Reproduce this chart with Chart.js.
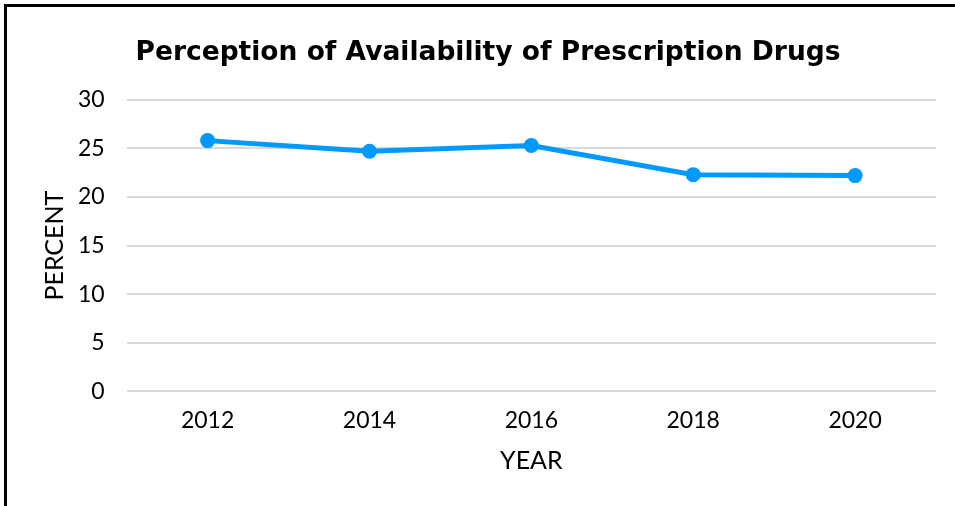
<!DOCTYPE html>
<html>
<head>
<meta charset="utf-8">
<script src="https://cdn.jsdelivr.net/npm/chart.js@4"></script>
<style>
  body { margin: 0; background: #fff; overflow: hidden; }
  #frame {
    position: absolute; left: 4px; top: 4px;
    border-left: 3px solid #000; border-top: 3px solid #000;
    width: 951px; height: 502px;
  }
</style>
</head>
<body>
<div id="frame"><canvas id="myChart" width="948" height="499"></canvas></div>
<script>
const years = ['2012', '2014', '2016', '2018', '2020'];
const percent = [25.8, 24.7, 25.3, 22.3, 22.2];
const yTicks = [0, 5, 10, 15, 20, 25, 30];

const clrLine = '#0099FF';
const clrGrid = '#D9D9D9';
const fontFace = 'Lato, "Noto Sans", sans-serif';
const titleFace = '"DejaVu Sans", sans-serif';

// note: chart.js reserves ticks.padding twice, the negative title paddings take that back
let chart = new Chart('myChart', {
	type: 'line',
	data: {
		labels: years,
		datasets: [{
			label: 'Percent',
			data: percent,
			borderColor: clrLine,
			backgroundColor: clrLine,
			borderWidth: 5,
			pointRadius: 7.5,
			pointBackgroundColor: clrLine,
			pointBorderWidth: 0,
			fill: false,
			tension: 0
		}]
	},
	options: {
		responsive: false,
		animation: false,
		layout: {
			padding: { left: 33, right: 19, bottom: 30 }
		},
		scales: {
			x: {
				offset: true,
				grid: { display: false, drawTicks: false },
				border: { display: false },
				ticks: { color: '#000', font: { family: fontFace, size: 23 }, padding: 15 },
				title: {
					display: true,
					text: 'YEAR',
					color: '#000',
					font: { family: fontFace, size: 25 },
					padding: { top: -3, bottom: 0 }
				}
			},
			y: {
				min: 0,
				max: 30,
				afterBuildTicks: (axis) => { axis.ticks = yTicks.map(v => ({ value: v })); },
				grid: { color: clrGrid, lineWidth: 2, drawTicks: false },
				border: { display: false },
				ticks: { color: '#000', font: { family: fontFace, size: 23 }, padding: 22 },
				title: {
					display: true,
					text: 'PERCENT',
					color: '#000',
					font: { family: fontFace, size: 25 },
					padding: { top: 0, bottom: -14 }
				}
			}
		},
		plugins: {
			title: {
				display: true,
				text: 'Perception of Availability of Prescription Drugs',
				color: '#000',
				font: { family: titleFace, size: 26.5, weight: 'bold' },
				padding: { top: 30, bottom: 31 }
			},
			legend: { display: false },
			tooltip: { enabled: false }
		}
	}
});
</script>
</body>
</html>
